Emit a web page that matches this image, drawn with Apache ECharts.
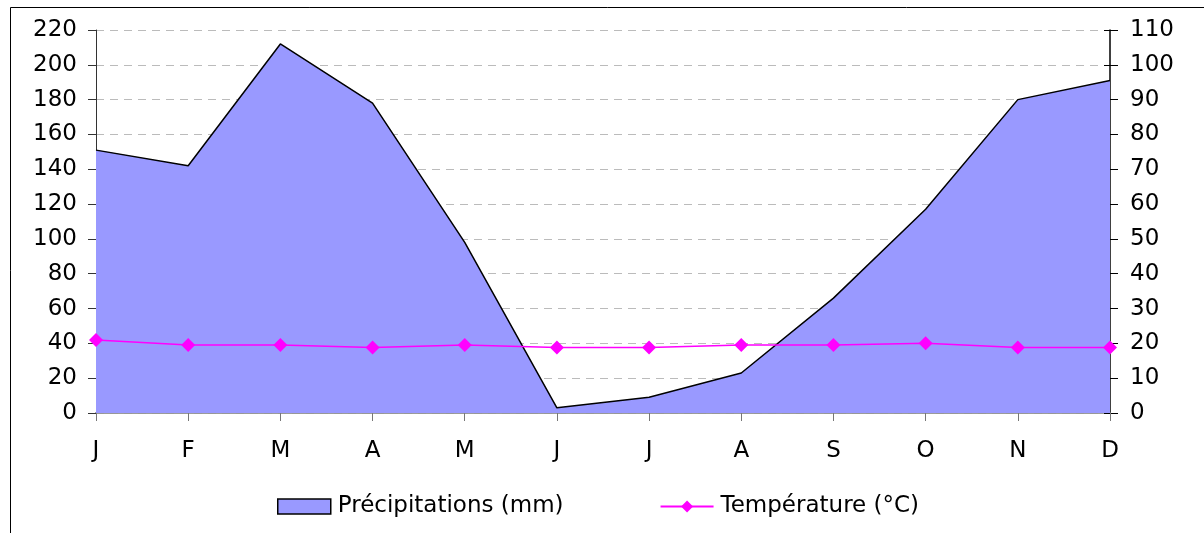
<!DOCTYPE html>
<html><head><meta charset="utf-8">
<script src="https://cdn.jsdelivr.net/npm/echarts@6/dist/echarts.min.js"></script>
<style>html,body{margin:0;padding:0;background:#fff}#c{width:1204px;height:533px}</style>
</head><body><div id="c"></div>
<script>
const months = ['J','F','M','A','M','J','J','A','S','O','N','D'];
const precip = [151, 142, 212, 178, 98, 3, 9, 23, 66, 117, 180, 191];
const temp = [21, 19.5, 19.5, 18.8, 19.5, 18.8, 18.8, 19.5, 19.5, 20, 18.8, 18.8];
const precipName = 'Précipitations (mm)';
const tempName = 'Température (°C)';
const font = 'DejaVu Sans, Liberation Sans, Arial, sans-serif';
const fs = 23;

const chart = echarts.init(document.getElementById('c'));
chart.setOption({
  animation: false,
  backgroundColor: '#fff',
  graphic: [{type:'rect', shape:{x:10.5, y:7.5, width:1300, height:600}, style:{fill:'none', stroke:'#000', lineWidth:1}, z:-10}],
  grid: {left: 96, right: 94, top: 30, bottom: 120, show: false},
  legend: {
    top: 490, left: 272, itemGap: 96, itemWidth: 53, itemHeight: 15,
    textStyle: {fontFamily: font, fontSize: fs, color: '#000', padding: [0, 0, 0, 2]},
    data: [
      {name: precipName, icon: 'rect', itemStyle: {color: '#9999FF', borderColor: '#000', borderWidth: 1.5}},
      {name: tempName}
    ]
  },
  xAxis: [{
    type: 'category', data: months, boundaryGap: false,
    axisLine: {lineStyle: {color: '#000', width: 1.5}},
    axisTick: {show: true, length: 8, lineStyle: {color: '#777'}},
    axisLabel: {fontFamily: font, fontSize: fs, color: '#000', margin: 27},
    splitLine: {show: false}
  }, {
    type: 'category', data: months, boundaryGap: false, position: 'top',
    axisLine: {show: true, lineStyle: {color: '#bbb', width: 1.5}},
    axisTick: {show: false}, axisLabel: {show: false}, splitLine: {show: false}
  }],
  yAxis: [{
    type: 'value', min: 0, max: 220, interval: 20,
    axisLine: {show: true, lineStyle: {color: '#333', width: 1}},
    axisTick: {show: true, length: 8, lineStyle: {color: '#333'}},
    axisLabel: {fontFamily: font, fontSize: fs, color: '#000', margin: 19},
    splitLine: {show: true, lineStyle: {color: '#bbb', type: [8, 6], width: 1}}
  }, {
    type: 'value', min: 0, max: 110, interval: 10,
    axisLine: {show: true, lineStyle: {color: '#000', width: 1.5}},
    axisTick: {show: true, length: 8, lineStyle: {color: '#000'}},
    axisLabel: {fontFamily: font, fontSize: fs, color: '#000', margin: 20},
    splitLine: {show: false}
  }, {
    type: 'value', min: 0, max: 110, interval: 10, position: 'right',
    axisLine: {show: false},
    axisTick: {show: true, inside: true, length: 6, lineStyle: {color: '#000'}},
    axisLabel: {show: false}, splitLine: {show: false}
  }],
  series: [{
    name: 'precipCover', type: 'line', data: precip, yAxisIndex: 0, z: 2, silent: true,
    symbol: 'none', lineStyle: {width: 0},
    itemStyle: {color: '#9999FF', opacity: 1},
    areaStyle: {color: '#9999FF', opacity: 1}
  }, {
    name: precipName, type: 'line', data: precip, yAxisIndex: 0, z: 3,
    symbol: 'none', lineStyle: {color: '#000', width: 1.5, opacity: 1},
    itemStyle: {color: '#9999FF', borderColor: '#000', opacity: 1},
    areaStyle: {color: '#9999FF', opacity: 1}
  }, {
    name: tempName, type: 'line', data: temp, yAxisIndex: 1, z: 5,
    symbol: 'diamond', symbolSize: 14,
    lineStyle: {color: '#FF00FF', width: 1.5},
    itemStyle: {color: '#FF00FF'}
  }]
});
</script></body></html>
